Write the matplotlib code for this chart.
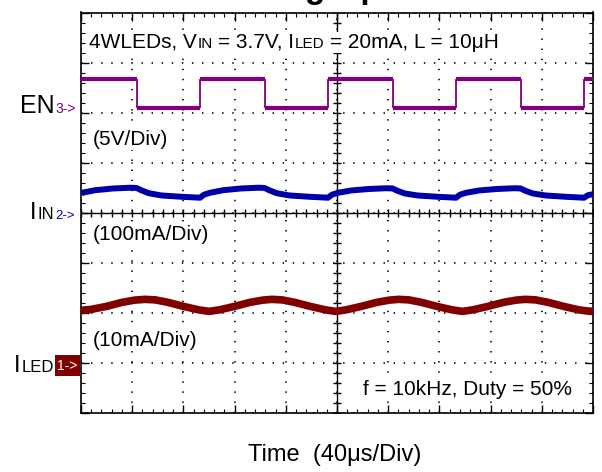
import matplotlib
matplotlib.use('Agg')
import numpy as np
import matplotlib.pyplot as plt
from matplotlib.patches import Rectangle

plt.rcParams['font.family'] = ['Liberation Sans', 'DejaVu Sans']

W, H = 602, 472

# time axis: 40 us/div, 10 divisions
# EN (V): edge times and levels
en_t = [0, 43.5, 93, 143.5, 193, 243.5, 293, 343.5, 393, 400]
en_v = [3.4, 0.5, 3.4, 0.5, 3.4, 0.5, 3.4, 0.5, 3.4]

# input current (mA, AC coupled)
iin_t = [0, 1, 11, 25, 39, 43.5, 47, 53, 63, 78, 93,
         96, 101, 111, 125, 139, 143.5, 147, 153, 163, 178, 193,
         196, 201, 211, 225, 239, 243.5, 247, 253, 263, 278, 293,
         296, 301, 311, 325, 339, 343.5, 347, 353, 363, 378, 393,
         396, 400]
iin_ma = [37, 40, 45, 48.5, 50, 49.5, 45, 39, 34.5, 32, 30,
          36, 40, 45, 48.5, 50, 49.5, 45, 39, 34.5, 32, 30,
          36, 40, 44.5, 47.5, 49, 48.5, 44, 38.5, 34.5, 32, 30,
          36, 40, 44.5, 47.5, 49, 48.5, 44, 38.5, 34.5, 32, 30,
          35, 37]

# LED current (mA)
iled_t = [0, 8, 20, 32, 42, 50, 58, 68, 80, 92,
          100, 108, 120, 132, 142, 149, 157, 167, 179, 191,
          199, 207, 219, 231, 241, 248, 256, 266, 278, 290,
          298, 306, 318, 330, 340, 347, 355, 365, 377, 389,
          398, 400]
iled_ma = [10.5, 10.7, 11.3, 12.1, 12.55, 12.7, 12.6, 12.1, 11.3, 10.6,
           10.3, 10.6, 11.3, 12.1, 12.55, 12.7, 12.6, 12.1, 11.3, 10.6,
           10.3, 10.6, 11.3, 12.1, 12.55, 12.7, 12.6, 12.1, 11.3, 10.6,
           10.3, 10.6, 11.3, 12.1, 12.55, 12.7, 12.6, 12.1, 11.3, 10.6,
           10.3, 10.4]

# channel scale (units/div) and ground position (div from centre)
en_scale, en_zero = 5.0, 2.0
iin_scale, iin_zero = 100.0, 0.0
iled_scale, iled_zero = 10.0, -3.0

purple = '#800080'
blue = '#0000a8'
dred = '#800000'


def put_runs(fig, rend, x, y, runs, boxed=False):
    # x, y in pixels from the top-left corner, y = baseline
    for s, size, color, gap in runs:
        x += gap
        t = fig.text(x / W, 1 - y / H, s, fontsize=size, color=color,
                     ha='left', va='baseline', zorder=5)
        if boxed:
            t.set_bbox(dict(facecolor='white', edgecolor='none', pad=1))
        x = t.get_window_extent(rend).x1
    return x


def main():
    fig = plt.figure(figsize=(W / 100, H / 100), dpi=100)
    ax = fig.add_axes([81 / W, 59 / H, 512 / W, 400.5 / H])
    ax.set_xlim(0, 400)
    ax.set_ylim(-4, 4)

    ax.set_xticks(np.arange(0, 401, 40))
    ax.set_xticks(np.arange(0, 401, 8), minor=True)
    ax.set_yticks(np.arange(-4, 4.01, 1))
    ax.set_yticks(np.arange(-4, 4.01, 0.2), minor=True)
    ax.tick_params(which='both', direction='in', top=True, right=True,
                   labelbottom=False, labelleft=False, color='black')
    ax.tick_params(which='major', length=5.5, width=1)
    ax.tick_params(which='minor', length=3, width=0.8)
    ax.grid(which='major', color='black', linewidth=1.2, linestyle=(0, (0.85, 5.2)))
    for sp in ax.spines.values():
        sp.set_linewidth(1.2)

    # centre cross with ticks
    ax.axhline(0, color='black', lw=1, zorder=2)
    ax.axvline(200, color='black', lw=1, zorder=2)
    xs = np.arange(0, 401, 8)
    ax.plot(xs, np.zeros_like(xs), ls='none', marker='|', ms=5.5, mew=1, color='black', zorder=2)
    ys = np.arange(-4, 4.01, 0.2)
    ax.plot(np.full_like(ys, 200), ys, ls='none', marker='_', ms=5.5, mew=1, color='black', zorder=2)

    # EN trace: thick levels, thin edges
    en_div = [en_zero + v / en_scale for v in en_v]
    ax.hlines(en_div, en_t[:-1], en_t[1:], color=purple, lw=3, zorder=3)
    ax.vlines(en_t[1:-1], min(en_div), max(en_div), color=purple, lw=1.3, zorder=3)

    ax.plot(iin_t, [iin_zero + v / iin_scale for v in iin_ma], color=blue, lw=4.3,
            solid_joinstyle='round', solid_capstyle='butt', zorder=3)
    ax.plot(iled_t, [iled_zero + v / iled_scale for v in iled_ma], color=dred, lw=5.5,
            solid_joinstyle='round', solid_capstyle='butt', zorder=3)

    rend = fig.canvas.get_renderer()

    # title, clipped by the top edge as on the original screen shot
    fig.text(337 / W, 1 + 2 / H, 'Dimming Operation', fontsize=24, fontweight='bold',
             ha='center', va='baseline')

    sp15 = 5.8
    put_runs(fig, rend, 89, 48, [('4WLEDs, V', 15, 'black', 0), ('IN', 11, 'black', 0.5),
                                 ('= 3.7V, I', 15, 'black', sp15), ('LED', 11, 'black', 0.5),
                                 ('= 20mA, L = 10μH', 15, 'black', sp15)], boxed=True)
    put_runs(fig, rend, 93, 145, [('(5V/Div)', 15, 'black', 0)], boxed=True)
    put_runs(fig, rend, 93, 240, [('(100mA/Div)', 15, 'black', 0)], boxed=True)
    put_runs(fig, rend, 93, 346, [('(10mA/Div)', 15, 'black', 0)], boxed=True)
    put_runs(fig, rend, 363, 395, [('f = 10kHz, Duty = 50%', 15, 'black', 0)], boxed=True)
    fig.text(334.5 / W, 1 - 461 / H, 'Time  (40μs/Div)', fontsize=17, ha='center', va='baseline')

    # channel markers on the left
    put_runs(fig, rend, 20, 113, [('EN', 18, 'black', 0), ('3->', 10, purple, 1)])
    put_runs(fig, rend, 30, 219, [('I', 17, 'black', 0), ('IN', 12, 'black', 1),
                                  ('2->', 9.5, blue, 1)])
    put_runs(fig, rend, 14, 372, [('I', 17, 'black', 0), ('LED', 12, 'black', 1)])
    fig.add_artist(Rectangle((55 / W, 1 - 376 / H), 25 / W, 21 / H, transform=fig.transFigure,
                             facecolor=dred, edgecolor='none'))
    fig.text(67.5 / W, 1 - 366 / H, '1->', fontsize=10, color='white', ha='center', va='center')

    fig.savefig('out.png', dpi=100)


if __name__ == '__main__':
    main()
